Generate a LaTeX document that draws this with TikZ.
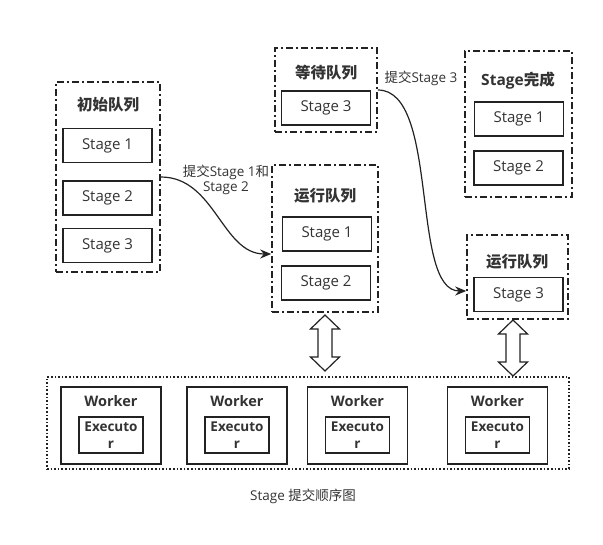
\documentclass[tikz,border=0pt]{standalone}
\usepackage{fontspec}
\setmainfont{Open Sans}
\newfontfamily\cjk{Noto Sans CJK SC}
\usetikzlibrary{arrows.meta}
\definecolor{ink}{HTML}{222222}
\definecolor{txt}{HTML}{333333}
\begin{document}
\begin{tikzpicture}[x=1pt,y=-1pt,
  container/.style={draw=ink, line width=1.6pt, dash pattern=on 7pt off 3pt on 2pt off 3pt, inner sep=0pt},
  stagebox/.style={draw=ink, line width=1.6pt, minimum width=89pt, minimum height=34pt, inner sep=0pt, text=txt, font=\fontsize{15}{17}\selectfont},
  title/.style={text=txt, font=\fontsize{15.5}{18}\selectfont\bfseries, inner sep=0pt},
  workerbox/.style={draw=ink, line width=1.4pt, minimum width=100pt, minimum height=77pt, inner sep=0pt},
  execbox/.style={draw=ink, line width=1.4pt, minimum width=64pt, minimum height=36pt, inner sep=0pt, text=txt, align=center, font=\fontsize{13.5}{17}\selectfont\bfseries},
  wtitle/.style={text=txt, font=\fontsize{14.5}{16}\selectfont\bfseries, inner sep=0pt},
  lbl/.style={text=txt, font=\fontsize{13.5}{15}\selectfont, inner sep=0pt, align=center},
  flow/.style={draw=ink, line width=1.2pt, -{Stealth[length=11pt,width=9pt]}},
  dblarrow/.pic={\draw[ink, line width=1.2pt, fill=white]
     (0,-28) -- (14.5,-14) -- (7,-14) -- (7,14) -- (14.5,14) -- (0,28)
     -- (-14.5,14) -- (-7,14) -- (-7,-14) -- (-14.5,-14) -- cycle;}
]
\useasboundingbox (0,0) rectangle (603,545);

% initial queue
\node[container, minimum width=104pt, minimum height=190pt] (init) at (108,177) {};
\node[title] (initT) at (108,105) {\cjk\bfseries 初始队列};
\node[stagebox] (i1) at (107.5,145.5) {Stage 1};
\node[stagebox] (i2) at (107.5,198) {Stage 2};
\node[stagebox] (i3) at (107.5,245.5) {Stage 3};

% running queue (middle)
\node[container, minimum width=106pt, minimum height=147pt] (run1) at (325,238.5) {};
\node[title] (run1T) at (325,196) {\cjk\bfseries 运行队列};
\node[stagebox] (r1) at (327,234) {Stage 1};
\node[stagebox] (r2) at (326,283) {Stage 2};

% waiting queue
\node[container, minimum width=102pt, minimum height=84pt] (wait) at (326,90) {};
\node[title] (waitT) at (326,73) {\cjk\bfseries 等待队列};
\node[stagebox] (w3) at (326,108) {Stage 3};

% done
\node[container, minimum width=107pt, minimum height=146pt] (done) at (518.5,124) {};
\node[title] (doneT) at (518,81) {Stage{\cjk\bfseries 完成}};
\node[stagebox] (d1) at (519,119) {Stage 1};
\node[stagebox] (d2) at (518.5,168) {Stage 2};

% running queue (right)
\node[container, minimum width=101pt, minimum height=84pt] (run2) at (517.5,277) {};
\node[title] (run2T) at (517,262) {\cjk\bfseries 运行队列};
\node[stagebox] (s3) at (518.5,294.5) {Stage 3};

% cluster
\node[draw=ink, line width=1.6pt, dotted, minimum width=522pt, minimum height=92pt, inner sep=0pt] (cluster) at (308,423) {};
\foreach \n/\x in {1/111,2/237,3/357.5,4/497.5}{
  \node[workerbox] (wk\n) at (\x,425.5) {};
  \node[wtitle] (wkT\n) at (\x,401) {Worker};
  \node[execbox] (ex\n) at (\x,435) {Executo\\r};
}

% double arrows
\coordinate (da1) at (325,343);
\coordinate (da2) at (513,348);
\pic at (da1) {dblarrow};
\pic at (da2) {dblarrow};

% flows
\coordinate (t1) at (run1.west |- 0,254);
\draw[flow] (init.east) .. controls (215,177) and (222,254) .. (t1);
\node[lbl] (l1) at (226,180) {{\cjk 提交}Stage 1{\cjk 和}\\Stage 2};

\coordinate (t2) at (run2.west |- 0,291);
\draw[flow] (wait.east) .. controls (440,90) and (410,291) .. (t2);
\node[lbl] (l2) at (421,78) {{\cjk 提交}Stage 3};

% caption
\node[lbl] (cap) at (303,496) {Stage {\cjk 提交顺序图}};
\end{tikzpicture}
\end{document}
